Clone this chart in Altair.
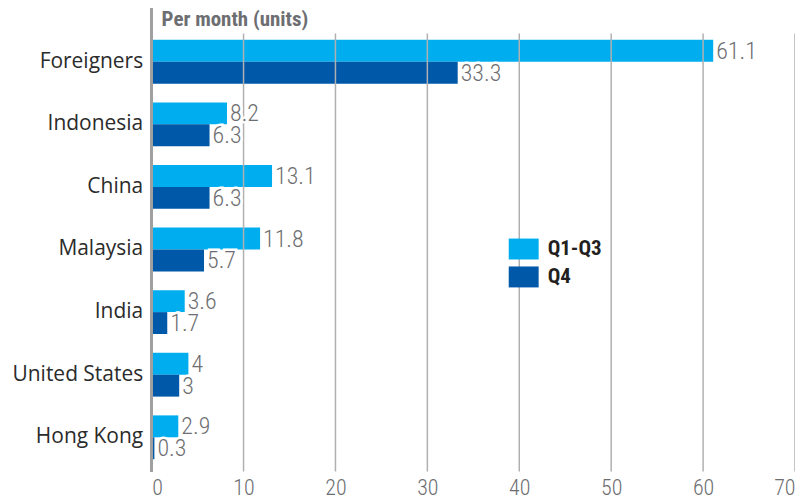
import altair as alt
import pandas as pd

categories = ["Foreigners", "Indonesia", "China", "Malaysia", "India", "United States", "Hong Kong"]
q1_q3 = [61.1, 8.2, 13.1, 11.8, 3.6, 4, 2.9]
q4 = [33.3, 6.3, 6.3, 5.7, 1.7, 3, 0.3]
series = ["Q1-Q3", "Q4"]
colors = ["#00aeef", "#0058a8"]
x_ticks = [0, 10, 20, 30, 40, 50, 60, 70]
title_text = ["Per month (units)"]

rows = []
for c, a, b in zip(categories, q1_q3, q4):
    rows.append({"country": c, "series": "Q1-Q3", "value": a})
    rows.append({"country": c, "series": "Q4", "value": b})
df = pd.DataFrame(rows)
grid_df = pd.DataFrame({"value": x_ticks[1:]})
title_df = pd.DataFrame({"t": title_text})

FONT = "Roboto Condensed, Liberation Sans Narrow, Roboto, sans-serif"
FONT_REG = "Open Sans, Roboto, sans-serif"
W, H = 645, 433

xscale = alt.Scale(domain=[0, 70], nice=False)
yscale = alt.Scale(paddingInner=0.3, paddingOuter=0.1)

xaxis = alt.Axis(values=x_ticks, title=None, grid=False, domain=False, ticks=False,
                 labelFont=FONT, labelFontSize=22, labelFontWeight=300,
                 labelColor="#6d6e71", labelPadding=12)
yaxis = alt.Axis(title=None, domain=False, ticks=False, grid=False,
                 labelFont=FONT_REG, labelFontSize=21, labelFontWeight="normal",
                 labelColor="#2b2b2b", labelPadding=9)

base = alt.Chart(df)

bars = base.mark_bar().encode(
    x=alt.X("value:Q", scale=xscale, axis=xaxis),
    y=alt.Y("country:N", sort=categories, scale=yscale, axis=yaxis),
    yOffset=alt.YOffset("series:N", sort=series),
    color=alt.Color("series:N", sort=series,
                    scale=alt.Scale(domain=series, range=colors),
                    legend=alt.Legend(title=None, orient="none", legendX=358, legendY=201,
                                      symbolType="M-1,-0.7H1V0.7H-1Z", symbolSize=900,
                                      symbolStrokeWidth=0, symbolOpacity=1,
                                      labelFont=FONT, labelFontSize=21, labelFontWeight="bold",
                                      labelColor="#231f20", labelOffset=9, rowPadding=2,
                                      padding=0)),
)

grid = alt.Chart(grid_df).mark_rule(color="#b0b0b0", strokeWidth=1.5).encode(
    x=alt.X("value:Q", scale=xscale, axis=xaxis),
    y=alt.value(0),
    y2=alt.value(439),
)

left_line = alt.Chart(grid_df).mark_rule(color="#a0a0a0", strokeWidth=2.5).encode(
    x=alt.value(0),
    y=alt.value(-26),
    y2=alt.value(439),
)

title = alt.Chart(title_df).mark_text(align="left", baseline="middle", font=FONT, fontSize=21,
                                      fontWeight="bold", color="#6d6e71").encode(
    x=alt.value(10), y=alt.value(-14), text="t:N"
)

text_enc = dict(
    x=alt.X("value:Q", scale=xscale, axis=xaxis),
    y=alt.Y("country:N", sort=categories, scale=yscale, axis=yaxis),
    yOffset=alt.YOffset("series:N", sort=series),
    text=alt.Text("value:Q"),
)

halo = base.mark_text(align="left", baseline="middle", dx=3, dy=1, font=FONT, fontSize=24,
                      fontWeight=300, stroke="white", strokeWidth=5, fill="white").encode(**text_enc)
labels = base.mark_text(align="left", baseline="middle", dx=3, dy=1, font=FONT, fontSize=24,
                        fontWeight=300, color="#6d6e71").encode(**text_enc)

chart = alt.layer(bars, grid, left_line, halo, labels, title).properties(
    width=W, height=H,
    autosize=alt.AutoSizeParams(type="none"),
    padding={"left": 144, "top": 25, "right": 0, "bottom": 34},
).configure_view(stroke=None)

chart.save("out.html", embed_options={"renderer": "svg", "actions": False})
